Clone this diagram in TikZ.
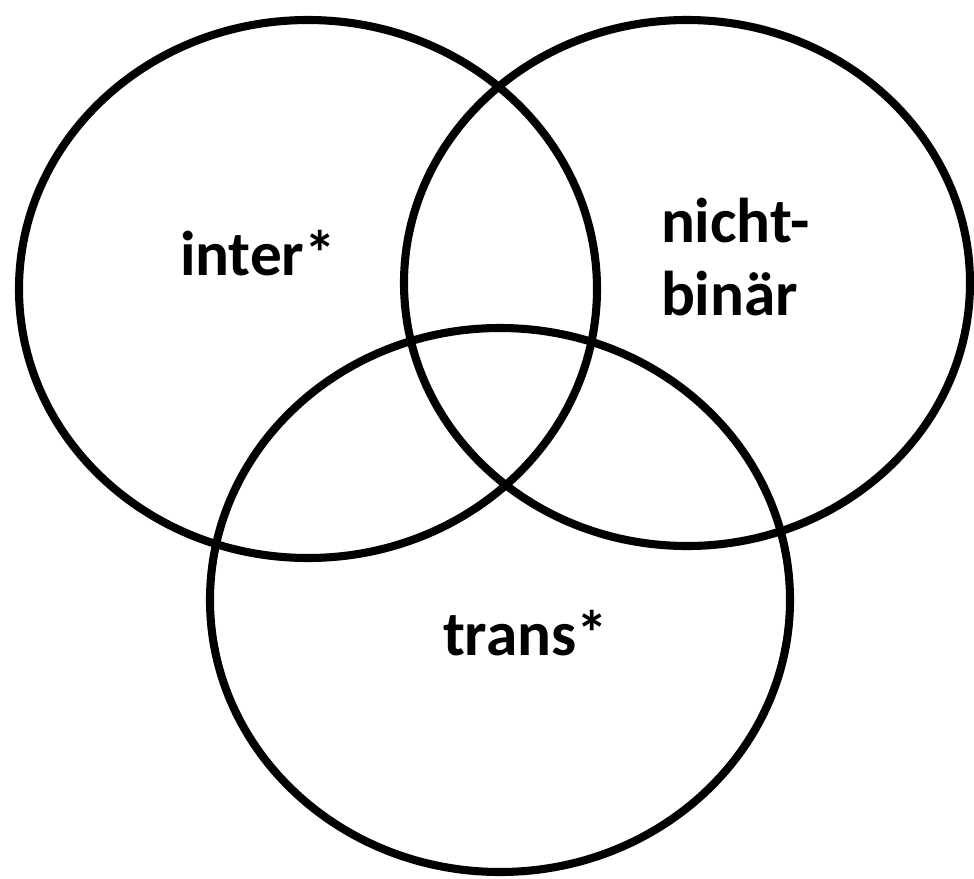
\documentclass[tikz,border=0pt]{standalone}
\usepackage{fontspec}
\setmainfont{Carlito}
\usepackage{tikz}

\begin{document}
\begin{tikzpicture}[x={(0.02cm,0cm)},y={(0cm,-0.02cm)},ring/.style={draw=black,line width=4.6pt},every node/.style={inner sep=0pt, outer sep=0pt, anchor=base west, font=\bfseries\fontsize{36}{41.5}\selectfont}]
\useasboundingbox (0,0) rectangle (974,879);
\draw[ring] (308,289) ellipse [x radius=289, y radius=269];
\draw[ring] (687,283) ellipse [x radius=283, y radius=263];
\draw[ring] (500,600) ellipse [x radius=290, y radius=272];
\node (inter) at (180,275) {inter*};
\node[align=left] (nb) at (661,315) {nicht-\\bin\"ar};
\node (trans) at (443,655) {trans*};
\end{tikzpicture}
\end{document}
